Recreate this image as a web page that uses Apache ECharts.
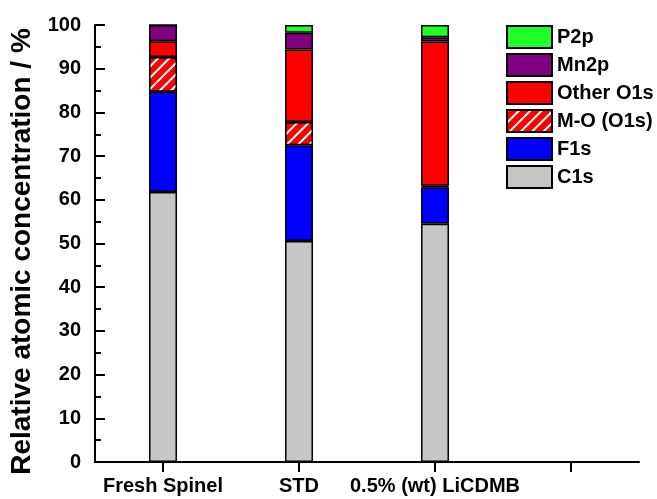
<!DOCTYPE html>
<html lang="en">
  <head>
    <meta charset="UTF-8" />
    <title>Relative atomic concentration</title>
    <style>
      html, body { margin: 0; padding: 0; width: 100%; height: 100%; background: #fff; }
      #chart { width: 657px; height: 499px; }
    </style>
    <script src="https://cdn.jsdelivr.net/npm/echarts@6/dist/echarts.min.js"></script>
  </head>
  <body>
    <div id="chart"></div>
    <script>
      const categories = ['Fresh Spinel', 'STD', '0.5% (wt) LiCDMB', '']
      const yTicks = [0, 10, 20, 30, 40, 50, 60, 70, 80, 90, 100]

      // stacked from bottom to top
      const c1s = [61.8, 50.6, 54.5, '-']
      const f1s = [22.9, 21.9, 8.4, '-']
      const mo = [8.0, 5.3, 0.3, '-']
      const otherO1s = [3.6, 16.6, 33.0, '-']
      const mn2p = [3.7, 3.8, 1.0, '-']
      const p2p = [0, 1.8, 2.8, '-']

      const font = 'Liberation Sans, Arial, sans-serif'
      const chart = echarts.init(document.getElementById('chart'))

      function bar(name, data, color, extra) {
        return Object.assign({
          name,
          type: 'bar',
          stack: 'total',
          barWidth: 28,
          data,
          itemStyle: {
            color,
            borderColor: '#000',
            borderWidth: 1.5
          }
        }, extra || {})
      }

      const options = {
        animation: false,
        grid: { left: 95, right: 18, top: 25, bottom: 37 },
        legend: {
          orient: 'vertical',
          left: 506,
          top: 25,
          padding: 0,
          itemWidth: 45,
          itemHeight: 22,
          itemGap: 4,
          icon: 'rect',
          data: ['P2p', 'Mn2p', 'Other O1s', 'M-O (O1s)', 'F1s', 'C1s'],
          itemStyle: { borderColor: '#000', borderWidth: 2 },
          textStyle: { fontFamily: font, fontWeight: 'bold', fontSize: 20, color: '#000' }
        },
        xAxis: {
          type: 'category',
          data: categories,
          axisLine: { lineStyle: { color: '#000', width: 2 } },
          axisTick: { show: true, alignWithLabel: true, interval: 0, length: 10, lineStyle: { color: '#000', width: 2 } },
          axisLabel: { interval: 0, margin: 14, fontFamily: font, fontWeight: 'bold', fontSize: 20, color: '#000' }
        },
        yAxis: {
          type: 'value',
          min: yTicks[0],
          max: yTicks[yTicks.length - 1],
          interval: 10,
          name: 'Relative atomic concentration / %',
          nameLocation: 'middle',
          nameGap: 57,
          nameTextStyle: { fontFamily: font, fontWeight: 'bold', fontSize: 28, color: '#000', padding: [0, 16, 0, 0] },
          splitLine: { show: false },
          axisLine: { show: true, lineStyle: { color: '#000', width: 2 } },
          axisTick: { show: true, inside: true, length: 10, lineStyle: { color: '#000', width: 2 } },
          minorTick: { show: true, splitNumber: 2, length: 6, lineStyle: { color: '#000', width: 2 } },
          axisLabel: { margin: 14, fontFamily: font, fontWeight: 'bold', fontSize: 20, color: '#000' }
        },
        series: [
          bar('C1s', c1s, '#c6c6c6'),
          bar('F1s', f1s, '#0000ff'),
          bar('M-O (O1s)', mo, '#ff0000', {
            itemStyle: {
              color: '#ff0000',
              borderColor: '#000',
              borderWidth: 1.5,
              decal: {
                symbol: 'rect',
                symbolSize: 1,
                color: '#ffffff',
                dashArrayX: [1, 0],
                dashArrayY: [2, 6],
                rotation: -Math.PI / 4
              }
            }
          }),
          bar('Other O1s', otherO1s, '#ff0000'),
          bar('Mn2p', mn2p, '#800080'),
          bar('P2p', p2p, '#1eff2a')
        ]
      }
      chart.setOption(options)
    </script>
  </body>
</html>
